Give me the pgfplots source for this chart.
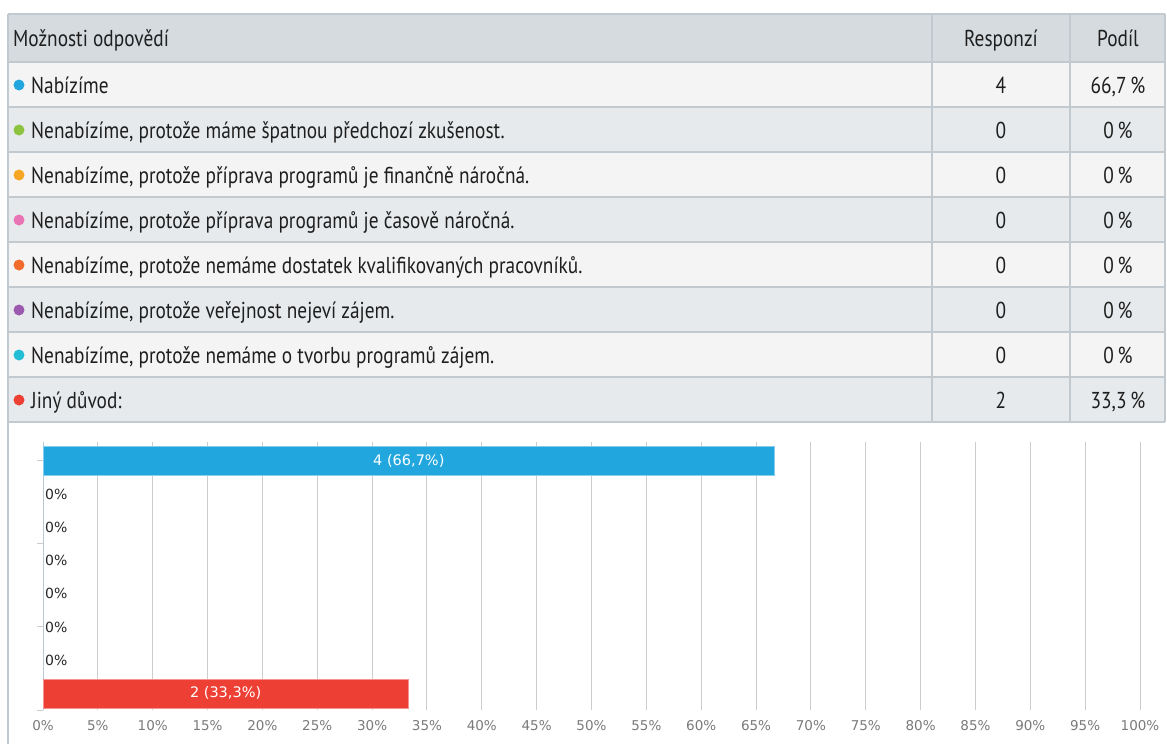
\documentclass[border=0pt]{standalone}
\usepackage{pgfplots}
\pgfplotsset{compat=1.18}
\usepackage{fontspec}
\setmainfont{DejaVu Sans}
\newfontfamily\tabfont[FakeStretch=0.84]{PT Sans}
\definecolor{hdr}{HTML}{D5DBDF}
\definecolor{rowa}{HTML}{F4F4F4}
\definecolor{rowb}{HTML}{E7EAEC}
\definecolor{tline}{HTML}{C3CACF}
\definecolor{cblue}{HTML}{21A6DE}
\definecolor{cgreen}{HTML}{8CC43F}
\definecolor{corange}{HTML}{F6A623}
\definecolor{cpink}{HTML}{E873B5}
\definecolor{cdorange}{HTML}{F26B2C}
\definecolor{cpurple}{HTML}{9B59B0}
\definecolor{ccyan}{HTML}{23BDD6}
\definecolor{cred}{HTML}{EE3F35}
\definecolor{gridc}{HTML}{CCCCCC}
\definecolor{tickc}{HTML}{7A7A7A}
\definecolor{axisc}{HTML}{B8C8D8}
\begin{document}
\begin{tikzpicture}
\useasboundingbox (0,0) rectangle (1167bp,-744bp);
\begin{scope}[x=1bp,y=-1bp]
  \fill[hdr] (8,14) rectangle (1165,62);
  \foreach \t/\c in {62/rowa,107/rowb,152/rowa,197/rowb,242/rowa,287/rowb,332/rowa,377/rowb}{
    \fill[\c] (8,\t) rectangle (1165,\t+45);
  }
  \foreach \t in {14,62,107,152,197,242,287,332,377,422}{
    \draw[tline, line width=1.5bp] (8,\t) -- (1165,\t);
  }
  \draw[tline, line width=1.5bp] (932,14) -- (932,422);
  \draw[tline, line width=1.5bp] (1070,14) -- (1070,422);
  \draw[tline, line width=1.5bp] (1165,14) -- (1165,422);
  \draw[tline, line width=1.5bp] (8,14) -- (8,744);
  \tikzset{tt/.style={font=\tabfont\fontsize{23bp}{26bp}\selectfont, text=black!88, inner sep=0pt}}
  \node[tt, anchor=base west] at (13,46) {Možnosti odpovědí};
  \node[tt, anchor=base] at (1001,46) {Responzí};
  \node[tt, anchor=base] at (1118,46) {Podíl};
  \foreach \i/\c/\txt/\n/\p in {
    0/cblue/{Nabízíme}/4/{66,7\,\%},
    1/cgreen/{Nenabízíme, protože máme špatnou předchozí zkušenost.}/0/{0\,\%},
    2/corange/{Nenabízíme, protože příprava programů je finančně náročná.}/0/{0\,\%},
    3/cpink/{Nenabízíme, protože příprava programů je časově náročná.}/0/{0\,\%},
    4/cdorange/{Nenabízíme, protože nemáme dostatek kvalifikovaných pracovníků.}/0/{0\,\%},
    5/cpurple/{Nenabízíme, protože veřejnost nejeví zájem.}/0/{0\,\%},
    6/ccyan/{Nenabízíme, protože nemáme o tvorbu programů zájem.}/0/{0\,\%},
    7/cred/{Jiný důvod:}/2/{33,3\,\%}}{
    \fill[\c] (19,85+45*\i) circle (5.5);
    \node[tt, anchor=base west] at (31,93+45*\i) {\txt};
    \node[tt, anchor=base] at (1001,93+45*\i) {\n};
    \node[tt, anchor=base] at (1118,93+45*\i) {\p};
  }
\end{scope}
\begin{axis}[
  at={(43bp,-710bp)}, anchor=south west,
  scale only axis, width=1097bp, height=268bp,
  xmin=0, xmax=100, ymin=-0.57, ymax=7.5, y dir=reverse,
  axis y line*=left, axis x line*=bottom,
  x axis line style={draw=none},
  y axis line style={draw=axisc, line width=1bp},
  xtick={0,5,...,100},
  xticklabels={0\%,5\%,10\%,15\%,20\%,25\%,30\%,35\%,40\%,45\%,50\%,55\%,60\%,65\%,70\%,75\%,80\%,85\%,90\%,95\%,100\%},
  x tick label style={font=\fontsize{13.5bp}{16bp}\selectfont, text=tickc, yshift=-1bp},
  x tick style={draw=none},
  ytick={0,2.5,5,7.5}, yticklabels={},
  y tick style={draw=gridc, line width=1bp},
  tick align=outside, major tick length=6bp,
  xmajorgrids, grid style={draw=gridc, line width=1bp},
  bar width=29bp,
  clip=false,
]
\addplot[xbar, bar shift=0pt, fill=cblue, draw=cblue!55!white, line width=0.8bp] coordinates {(66.7,0)};
\addplot[xbar, bar shift=0pt, fill=cred, draw=cred!55!white, line width=0.8bp] coordinates {(33.3,7)};
\addplot[draw=none, mark=none, nodes near coords={0\%},
  every node near coord/.append style={anchor=west, font=\fontsize{14bp}{16bp}\selectfont, text=black!85, inner sep=2bp}]
  coordinates {(0,1) (0,2) (0,3) (0,4) (0,5) (0,6)};
\node[text=white, font=\fontsize{14.5bp}{16bp}\selectfont] at (axis cs:33.35,0) {4 (66,7\%)};
\node[text=white, font=\fontsize{14.5bp}{16bp}\selectfont] at (axis cs:16.65,7) {2 (33,3\%)};
\end{axis}
\end{tikzpicture}
\end{document}
